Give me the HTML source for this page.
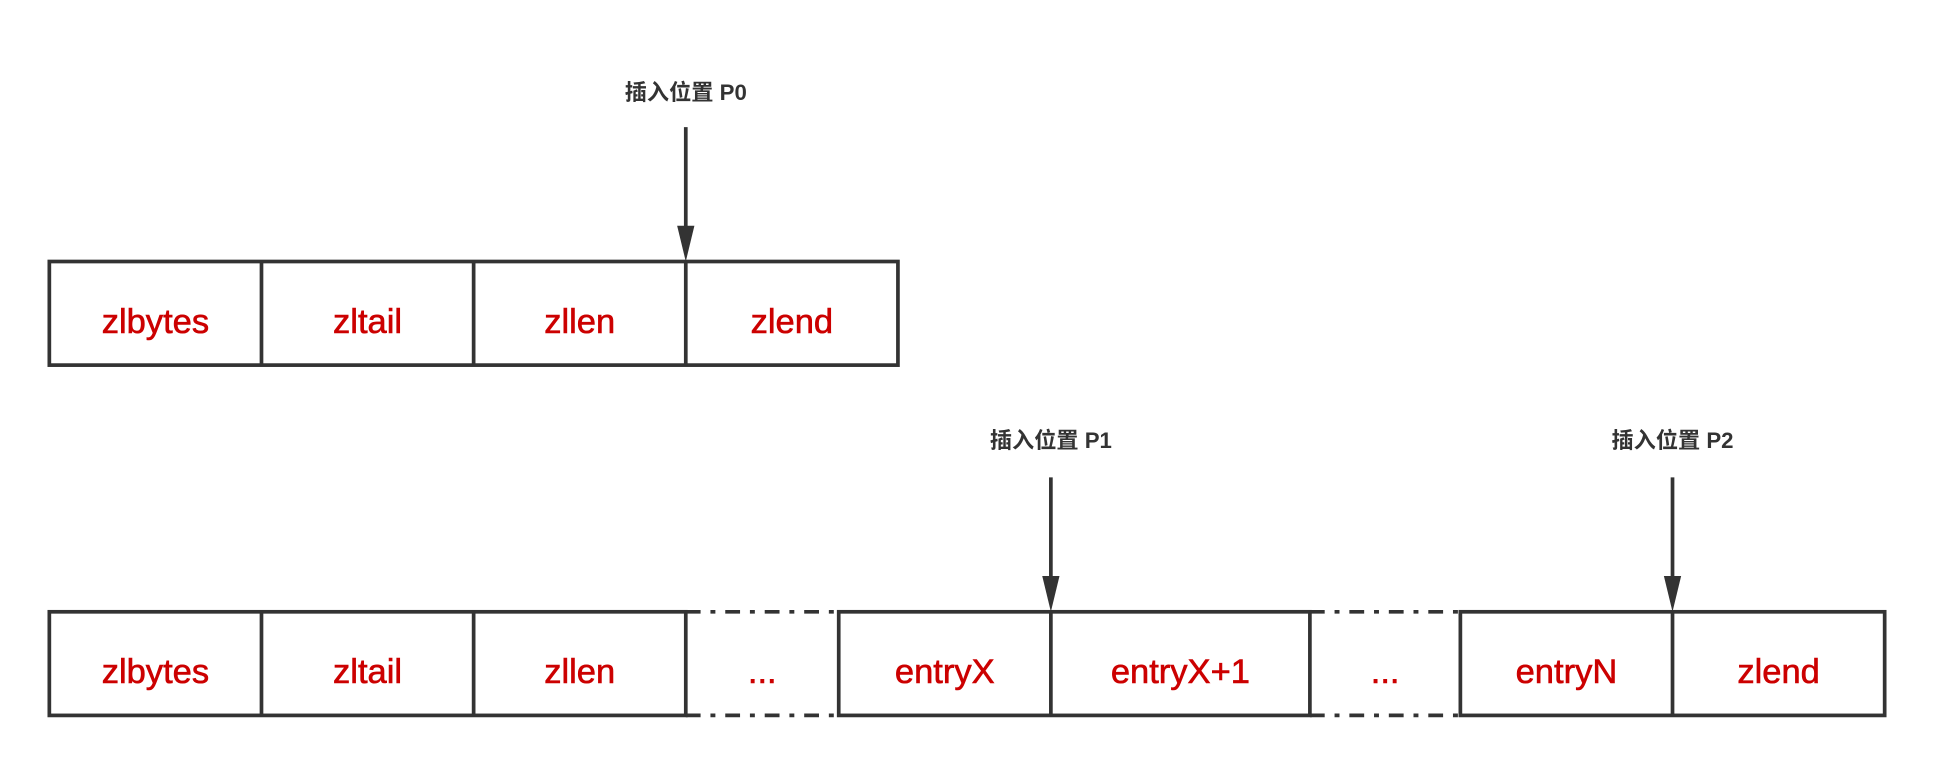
<!DOCTYPE html>
<html><head><meta charset="utf-8"><style>
html,body{margin:0;padding:0;background:#fff;width:1934px;height:766px;overflow:hidden}
svg{display:block}
.t{font-family:"Liberation Sans",sans-serif;font-size:28px;fill:#CC0000;text-anchor:middle;dominant-baseline:central;stroke:#CC0000;stroke-width:0.5px}
.l{font-family:"Liberation Sans","Noto Sans CJK SC",sans-serif;font-size:18px;font-weight:bold;fill:#333;text-anchor:middle;dominant-baseline:central}
</style></head><body>
<svg width="1934" height="766" viewBox="0 0 1568 621" xmlns="http://www.w3.org/2000/svg">
<g stroke="#333" stroke-width="3" fill="none">
<rect x="40" y="212" width="688" height="84"/>
<line x1="212" y1="212" x2="212" y2="296"/>
<line x1="384" y1="212" x2="384" y2="296"/>
<line x1="556" y1="212" x2="556" y2="296"/>
<line x1="556" y1="103" x2="556" y2="190"/>
<rect x="40" y="496" width="516" height="84"/>
<line x1="212" y1="496" x2="212" y2="580"/>
<line x1="384" y1="496" x2="384" y2="580"/>
<rect x="680" y="496" width="382" height="84"/>
<line x1="852" y1="496" x2="852" y2="580"/>
<rect x="1184" y="496" width="344" height="84"/>
<line x1="1356" y1="496" x2="1356" y2="580"/>
<line x1="852" y1="387" x2="852" y2="474"/>
<line x1="1356" y1="387" x2="1356" y2="474"/>
</g>
<g stroke="#333" stroke-width="3" fill="none" stroke-dasharray="12 8 4 8">
<line x1="556" y1="496" x2="680" y2="496"/>
<line x1="556" y1="580" x2="680" y2="580"/>
<line x1="1062" y1="496" x2="1184" y2="496"/>
<line x1="1062" y1="580" x2="1184" y2="580"/>
</g>
<g fill="#333">
<polygon points="549,183 563,183 556,212"/>
<polygon points="845,467 859,467 852,496"/>
<polygon points="1349,467 1363,467 1356,496"/>
</g>
<text class="l" x="556" y="75">插入位置 P0</text>
<text class="l" x="852" y="357">插入位置 P1</text>
<text class="l" x="1356" y="357">插入位置 P2</text>
<text class="t" x="126" y="261">zlbytes</text>
<text class="t" x="298" y="261">zltail</text>
<text class="t" x="470" y="261">zllen</text>
<text class="t" x="642" y="261">zlend</text>
<text class="t" x="126" y="545">zlbytes</text>
<text class="t" x="298" y="545">zltail</text>
<text class="t" x="470" y="545">zllen</text>
<text class="t" x="618" y="545">...</text>
<text class="t" x="766" y="545">entryX</text>
<text class="t" x="957" y="545">entryX+1</text>
<text class="t" x="1123" y="545">...</text>
<text class="t" x="1270" y="545">entryN</text>
<text class="t" x="1442" y="545">zlend</text>
</svg>
</body></html>
